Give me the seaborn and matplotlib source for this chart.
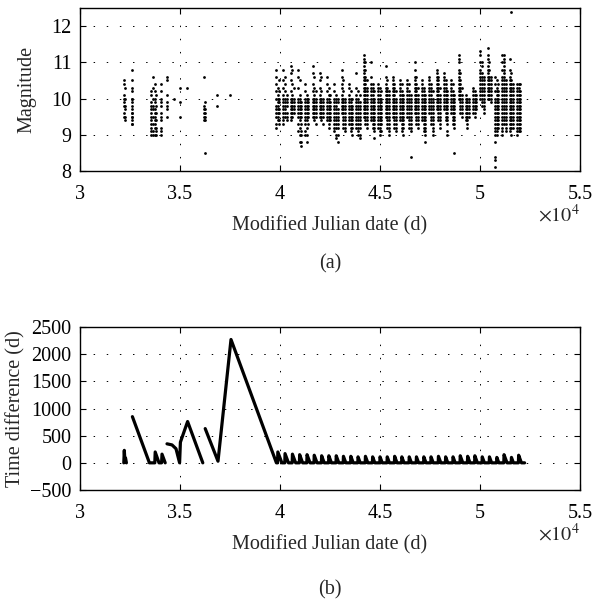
import numpy as np
import pandas as pd
import matplotlib
matplotlib.use("Agg")
import matplotlib.pyplot as plt
import seaborn as sns
from matplotlib.ticker import FuncFormatter

# ---------------- data ----------------
# (a) observation columns: date (MJD) and magnitudes (in tenths of mag)
col_mjd = [
    32220, 32250, 32580, 32620, 33560, 33640, 33740, 33800, 34050, 34350,
    34700, 35020, 35370, 36190, 36230, 36870, 37500,
    39800, 39880, 39960, 40170, 40250, 40330, 40530, 40610, 40690,
    40900, 40980, 41060, 41260, 41340, 41420, 41630, 41710, 41790,
    41990, 42070, 42150, 42360, 42440, 42520, 42720, 42800, 42880,
    43090, 43170, 43250, 43450, 43530, 43610, 43820, 43900, 43980,
    44180, 44260, 44340, 44550, 44630, 44710, 44910, 44990, 45070,
    45280, 45360, 45440, 45640, 45720, 45800, 46010, 46090, 46170,
    46370, 46450, 46530, 46740, 46820, 46900, 47100, 47180, 47260,
    47470, 47550, 47630, 47830, 47910, 47990, 48200, 48280, 48360,
    48560, 48640, 48720, 48930, 49010, 49090, 49290, 49370, 49450,
    49660, 49740, 49820, 50020, 50100, 50180, 50390, 50470, 50550,
    50750, 50830, 50910, 51120, 51200, 51280, 51480, 51560, 51640,
    51850, 51930, 52010,
]
col_mags = [
    "105 104 101 100 99 98 96 95", "103 100 98 97 95 94",
    "108 105 103 100 99 97 96 95 94 93", "102 100 98 96 95 93",
    "102 101 99 98 97 96 95 94 93 92 91 90", "106 103 100 98 97 95 93 91 90",
    "104 102 100 99 97 96 95 94 93 92 90", "101 98 96 94 92 91 90",
    "104 102 100 99 98 96 95 94 92 91 90", "106 105 101 99 98 97 95",
    "100", "103 99 95", "103", "106 98 97 96 95 94", "99 97 96 95 94 85",
    "101 98", "101",
    # 39800
    "108 106 104 102 100 98 97 96 95 93 92", "103 101 100 99 98 97 96 95 94",
    "105 102 100 99 97 96 94 93",
    # 40170
    "108 105 103 101 100 99 98 97 96 95 94 93", "106 104 102 100 99 98 97 96 95",
    "101 100 99 98 96 95 94",
    # 40530
    "109 107 105 102 100 99 98 97 96 95 94", "108 104 101 100 99 98 97 96 95",
    "103 100 99 98 97 96",
    # 40900
    "108 106 103 100 99 98 97 96 95 93 91", "105 101 100 99 98 97 96 95 94 92 90 88",
    "99 98 97 96 95 93 91 90 88 87",
    # 41260
    "104 102 100 99 98 97 96 95 94 93 91 90", "101 100 99 98 97 96 95 94 92 90 88",
    "100 99 98 97 96 95 93",
    # 41630
    "109 107 104 102 100 99 98 97 96 95", "106 103 101 100 99 98 97 96 95 94",
    "102 100 99 98 97 96 95 93",
    # 41990
    "107 105 103 101 100 99 98 97 96 95", "106 102 100 99 98 97 96 95 94",
    "100 99 98 97 96 95 93",
    # 42360
    "106 104 102 100 99 98 97 96 95 94", "103 101 100 99 98 97 96 95 94 93 92",
    "101 99 98 97 96 95 94",
    # 42720
    "104 102 100 99 98 97 96 95 94 93 92 91", "101 100 99 98 97 96 95 94 93 92 90 89",
    "100 99 97 96 95 94 93 92 90 88",
    # 43090
    "108 106 104 103 101 100 99 98 97 96", "105 102 100 99 98 97 96 95 94 93 92",
    "100 99 98 97 96 95 94 93 92 91",
    # 43450
    "104 103 101 100 99 98 97 96 95 94 93", "102 100 99 98 97 96 95 94 93 92 91",
    "100 98 97 96 95 94 93 92 90",
    # 43820
    "107 103 101 100 99 98 97 96 95 94 93 92", "102 100 99 98 97 96 95 94 93 92 91 90",
    "101 99 98 97 96 95 94 93 92 90 89",
    # 44180
    "112 111 110 109 108 107 106 105 104 103 102 101 100 99 98 97 96 95",
    "110 108 106 105 104 103 102 101 100 99 98 97 96 95 94 93",
    "105 103 102 101 100 99 98 97 96 95 94 93 92",
    # 44550
    "110 106 104 103 102 101 100 99 98 97 96 95 94",
    "104 103 102 101 100 99 98 97 96 95 94 93 92",
    "102 100 99 98 97 96 95 94 93 92 91 89",
    # 44910
    "104 103 102 101 100 99 98 97 96 95 94 93 92",
    "103 101 100 99 98 97 96 95 94 93 92 91 90",
    "102 100 99 98 97 96 95 94 93 91",
    # 45280
    "109 106 104 103 102 101 100 99 98 97 96 95",
    "105 103 102 101 100 99 98 97 96 95 94 93 92",
    "102 101 100 99 98 97 96 95 94 93 92 91 90",
    # 45640
    "106 105 104 103 102 101 100 99 98 97 96 95",
    "104 103 102 101 100 99 98 97 96 95 94 93 92",
    "102 100 99 98 97 96 95 94 93 92 91",
    # 46010
    "105 104 103 102 101 100 99 98 97 96 95 94",
    "104 102 101 100 99 98 97 96 95 94 93 92 91",
    "101 100 99 98 97 96 95 94 93 92 90",
    # 46370
    "105 104 103 102 101 100 99 98 97 96 95",
    "104 102 101 100 99 98 97 96 95 94 93 92",
    "101 100 99 98 97 96 95 94 93 92 91 84",
    # 46740
    "110 108 106 105 104 103 102 101 100 99 98 97 96",
    "106 104 103 102 101 100 99 98 97 96 95 94 93",
    "103 101 100 99 98 97 96 95 94 93 92",
    # 47100
    "105 104 103 102 101 100 99 98 97 96 95 94",
    "103 102 101 100 99 98 97 96 95 94 93 92 91",
    "101 100 99 98 97 96 95 94 93 92 91 90 88",
    # 47470
    "106 105 104 103 102 101 100 99 98 97 96",
    "104 103 102 101 100 99 98 97 96 95 94 93",
    "102 100 99 98 97 96 95 94 93 92 91 90",
    # 47830
    "108 107 106 105 104 103 102 101 100 99 98 97",
    "106 105 104 103 102 101 100 99 98 97 96 95 94",
    "103 101 100 99 98 97 96 95 94 93 92",
    # 48200
    "107 106 105 104 103 102 101 100 99 98 97",
    "105 104 103 102 101 100 99 98 97 96 95 94",
    "102 101 100 99 98 97 96 95 94 93 91 90",
    # 48560
    "105 104 103 102 101 100 99 98 97 96",
    "104 102 101 100 99 98 97 96 95 94 93",
    "101 100 99 98 97 96 95 94 93 92 85",
    # 48930
    "112 111 110 108 107 106 105 104 103 102 101 100",
    "107 105 104 103 102 101 100 99 98 97 96",
    "103 101 100 99 98 97 96 95",
    # 49290
    "101 100 99 98 97 96 95 94", "100 99 98 97 96 95 94 93 92",
    "100 99 98 97 96 95",
    # 49660
    "103 102 101 100 99 98 97 96", "102 101 100 99 98 97 96 95",
    "101 100 99 98 97",
    # 50020
    "113 112 110 108 107 106 105 104 103 102 101 100",
    "110 109 107 106 105 104 103 102 101 100 99 98",
    "106 105 104 103 102 101 100 99 98 97 96",
    # 50390
    "114 112 111 109 108 107 106 105 104 103 102 101 100",
    "110 108 106 105 104 103 102 101 100",
    "106 105 104 103 102 101 100 99",
    # 50750
    "106 104 102 100 99 98 97 96 95 94 93 92 91 90 88 84 83 81",
    "105 103 102 101 100 99 98 97 96 95 94 93 92 91 90",
    "104 102 101 100 99 98 97 96 95 94 93 92",
    # 51120
    "112 110 108 106 105 104 103 102 101 100 99 98 97 96 95 94 93 92 91 90",
    "112 111 110 109 108 107 106 105 104 103 102 101 100 99 98 97 96 95 94 93",
    "105 104 103 102 101 100 99 98 97 96 95 94 93 92 91",
    # 51480
    "111 108 106 105 104 103 102 101 100 99 98 97 96 95 94 93 92 91",
    "124 107 105 104 103 102 101 100 99 98 97 96 95 94 93 92 90",
    "104 103 102 101 100 99 98 97 96 95 94 93 92",
    # 51850
    "104 103 102 101 100 99 98 97 96 95 94 93 92 91 90",
    "104 103 102 101 100 99 98 97 96 95 94 93 92 91",
    "104 102 101 100 99 98 97 96 95 94 93 92 91",
]

# (b) time difference curve vertices (MJD, days) and the run each belongs to
td_mjd = [
    32190, 32215, 32245, 32275, 32320,
    32620, 33470, 33740, 33760, 33950, 34080, 34100, 34260,
    34350, 34600, 34800, 34980, 35020, 35380, 36140,
    36260, 36900, 37550, 39820,
]
td_days = [
    0, 230, 40, 90, 0,
    850, 0, 0, 200, 0, 0, 160, 0,
    350, 330, 260, 0, 380, 760, 0,
    630, 30, 2270, 0,
]
td_run = [
    0, 0, 0, 0, 0,
    1, 1, 1, 1, 1, 1, 1, 1,
    2, 2, 2, 2, 2, 2, 2,
    3, 3, 3, 3,
]
# annual observing gaps after MJD 39800: gap start (MJD) and gap length (days)
gap_start = [
    39880, 40240, 40610, 40970, 41340, 41700, 42070, 42430, 42800, 43160,
    43530, 43890, 44260, 44620, 44990, 45350, 45720, 46080, 46450, 46810,
    47180, 47540, 47910, 48270, 48640, 49000, 49370, 49730, 50100, 50460,
    50830, 51190, 51560, 51920,
]
gap_len = [
    200, 170, 160, 150, 150, 140, 130, 130, 130, 120,
    120, 110, 120, 110, 110, 110, 120, 110, 110, 110,
    110, 110, 120, 110, 110, 130, 120, 130, 110, 110,
    100, 150, 100, 140,
]
end_mjd = 52230

# ---------------- build tables ----------------
rows = []
for x, s in zip(col_mjd, col_mags):
    for v in s.split():
        rows.append((x, int(v) / 10.0))
df_a = pd.DataFrame(rows, columns=["mjd", "mag"])

bx, by, bu = list(td_mjd), list(td_days), list(td_run)
for t, h in zip(gap_start, gap_len):
    bx += [t, t + 12, t + 12 + h]
    by += [0, h, 0]
    bu += [3, 3, 3]
bx.append(end_mjd)
by.append(0)
bu.append(3)
df_b = pd.DataFrame({"mjd": bx, "td": by, "run": bu})

# ---------------- style ----------------
sns.set_style("ticks")
plt.rcParams["font.family"] = ["Liberation Serif", "DejaVu Serif"]
plt.rcParams["mathtext.fontset"] = "stix"
FS = 14.5

fig = plt.figure(figsize=(6.05, 6.04), dpi=100)
ax1 = fig.add_axes([80 / 605, 1 - 171 / 604, 500 / 605, 163 / 604])
ax2 = fig.add_axes([80 / 605, 1 - 490 / 604, 500 / 605, 163 / 604])

sns.scatterplot(data=df_a, x="mjd", y="mag", ax=ax1, color="black",
                s=4, linewidth=0, marker="o")
sns.lineplot(data=df_b, x="mjd", y="td", units="run", ax=ax2, color="black",
             lw=2.3, sort=False, estimator=None)

fmt = FuncFormatter(lambda v, p: f"{v / 1e4:g}")
for ax in (ax1, ax2):
    ax.set_xlim(30000, 55000)
    ax.set_xticks(range(30000, 55001, 5000))
    ax.xaxis.set_major_formatter(fmt)
    ax.grid(True, color="black", linestyle=(0, (1.5, 12)), linewidth=0.7)
    ax.tick_params(direction="in", length=4, width=0.8, top=True, right=True,
                   labelsize=FS, colors="black", pad=6)
    ax.tick_params(axis="x", pad=10)
    for sp in ax.spines.values():
        sp.set_visible(True)
        sp.set_color("black")
        sp.set_linewidth(1.0)
    ax.set_xlabel("Modified Julian date (d)", fontsize=FS, labelpad=9)
    ax.text(1.0, -0.272, r"$\times10^{4}$", transform=ax.transAxes,
            ha="right", va="center", fontsize=FS)

ax1.set_ylim(8, 12.5)
ax1.set_yticks([8, 9, 10, 11, 12])
ax1.set_ylabel("Magnitude", fontsize=FS)
ax1.yaxis.set_label_coords(-0.088, 0.5)

ax2.set_ylim(-500, 2500)
ax2.set_yticks(range(-500, 2501, 500))
ax2.set_ylabel("Time difference (d)", fontsize=FS)
ax2.yaxis.set_label_coords(-0.11, 0.5)

fig.text(330 / 605, 1 - 264 / 604, "(a)", ha="center", va="center", fontsize=FS)
fig.text(330 / 605, 1 - 590 / 604, "(b)", ha="center", va="center", fontsize=FS)

fig.savefig("out.png", dpi=100)
